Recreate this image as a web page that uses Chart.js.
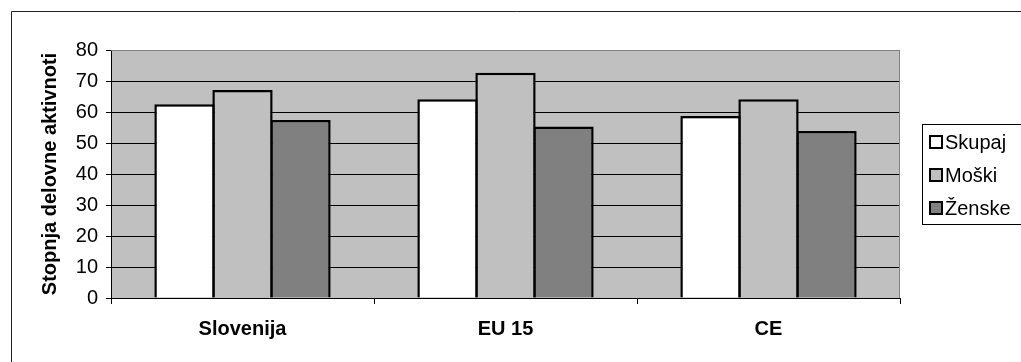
<!DOCTYPE html>
<html>
<head>
<meta charset="utf-8">
<script src="https://cdn.jsdelivr.net/npm/chart.js@4/dist/chart.umd.min.js"></script>
<style>
  html, body { margin: 0; padding: 0; background: #fff; }
  #wrap { width: 1021px; height: 362px; }
</style>
</head>
<body>
<div id="wrap"><canvas id="chart" width="1021" height="362"></canvas></div>
<script>
// data
var categories = ['Slovenija', 'EU 15', 'CE'];
var seriesNames = ['Skupaj', 'Moški', 'Ženske'];
var skupaj = [62.5, 64.1, 58.7];
var moski = [67.1, 72.7, 64.1];
var zenske = [57.4, 55.3, 53.9];
var yTitle = 'Stopnja delovne aktivnoti';

var fills = ['#ffffff', '#c0c0c0', '#808080'];
var font = 'Arial, "Liberation Sans", sans-serif';

// gray plot area, gray top/right border and the outer frame
var plotBg = {
  id: 'plotBg',
  beforeDraw: function(chart) {
    var c = chart.ctx, a = chart.chartArea;
    c.save();
    c.fillStyle = '#c0c0c0';
    c.fillRect(a.left, a.top, a.right - a.left, a.bottom - a.top);
    c.restore();
  },
  afterDraw: function(chart) {
    var c = chart.ctx, a = chart.chartArea;
    c.save();
    c.strokeStyle = '#808080';
    c.lineWidth = 1;
    c.beginPath();
    c.moveTo(a.left, a.top + 0.5);
    c.lineTo(a.right - 0.5, a.top + 0.5);
    c.lineTo(a.right - 0.5, a.bottom);
    c.stroke();
    // outer frame (runs off the picture to the right and bottom)
    c.strokeStyle = '#222';
    c.beginPath();
    c.moveTo(11.5, 400);
    c.lineTo(11.5, 11.5);
    c.lineTo(1100, 11.5);
    c.stroke();
    c.restore();
  }
};

// boxed legend on the right
var boxLegend = {
  id: 'boxLegend',
  afterDraw: function(chart) {
    var c = chart.ctx;
    var x0 = 922, y0 = 124, h = 100;
    c.save();
    c.fillStyle = '#fff';
    c.fillRect(x0, y0, 200, h);
    c.strokeStyle = '#000';
    c.lineWidth = 1;
    c.strokeRect(x0 + 0.5, y0 + 0.5, 200, h);
    c.font = '20px ' + font;
    c.textBaseline = 'middle';
    chart.data.datasets.forEach(function(ds, i) {
      var cy = y0 + 18 + i * 33;
      c.fillStyle = ds.backgroundColor;
      c.fillRect(930, cy - 6, 12, 12);
      c.lineWidth = 2;
      c.strokeStyle = '#000';
      c.strokeRect(930, cy - 6, 12, 12);
      c.fillStyle = '#000';
      c.fillText(ds.label, 945, cy + 1);
    });
    c.restore();
  }
};

var values = [skupaj, moski, zenske];
var datasets = seriesNames.map(function(name, i) {
  return {
    label: name,
    data: values[i],
    backgroundColor: fills[i],
    borderColor: '#000',
    borderWidth: 2.5,
    barPercentage: 1.04,
    categoryPercentage: 0.6616
  };
});

new Chart(document.getElementById('chart'), {
  type: 'bar',
  data: { labels: categories, datasets: datasets },
  options: {
    responsive: false,
    animation: false,
    devicePixelRatio: 1,
    layout: { padding: { top: 50, right: 121, left: 0, bottom: 0 } },
    plugins: {
      legend: { display: false },
      tooltip: { enabled: false }
    },
    scales: {
      x: {
        afterFit: function(s) { s.height = 64; },
        border: { display: true, color: '#000', width: 1 },
        grid: { drawOnChartArea: false, drawTicks: true, tickLength: 6, color: '#000' },
        ticks: { color: '#000', padding: 13, font: { family: font, size: 20, weight: 'bold' } }
      },
      y: {
        min: 0,
        max: 80,
        afterFit: function(s) { s.width = 111; },
        border: { display: true, color: '#000', width: 1 },
        grid: {
          color: function(ctx) { return ctx.tick && ctx.tick.value === 80 ? '#808080' : '#000'; },
          tickColor: '#000',
          tickLength: 5,
          lineWidth: 1
        },
        ticks: { stepSize: 10, color: '#000', padding: 8, font: { family: font, size: 20 } },
        title: {
          display: true,
          text: yTitle,
          color: '#000',
          padding: { top: 38, bottom: 0 },
          font: { family: font, size: 20, weight: 'bold' }
        }
      }
    }
  },
  plugins: [plotBg, boxLegend]
});
</script>
</body>
</html>
